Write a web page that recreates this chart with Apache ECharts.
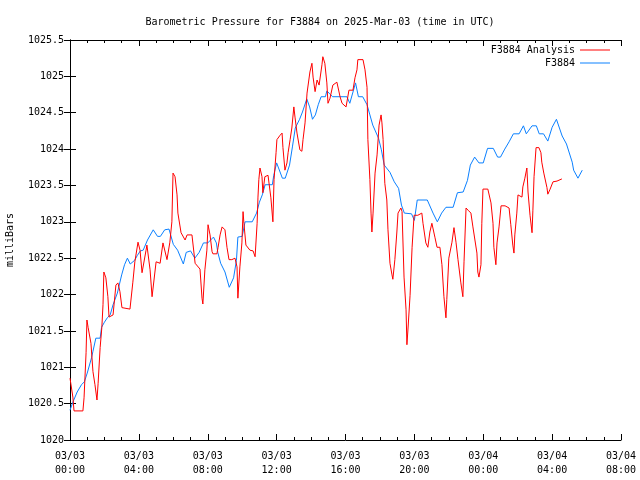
<!DOCTYPE html>
<html><head><meta charset="utf-8">
<script src="https://cdn.jsdelivr.net/npm/echarts@6/dist/echarts.min.js"></script>
<style>html,body{margin:0;padding:0;background:#fff}#c{width:640px;height:480px}</style>
</head><body><div id="c"></div>
<script>
// minutes after 2025-03-03 00:00 UTC
const xTickLabels = ['03/03\n00:00','03/03\n04:00','03/03\n08:00','03/03\n12:00','03/03\n16:00','03/03\n20:00','03/04\n00:00','03/04\n04:00','03/04\n08:00'];

const analysisMinutes = [0,10,14,45,49,56,59,63,73,80,87,94,98,105,111,115,118,125,132,136,150,160,167,174,181,209,219,226,237,244,251,254,265,268,279,286,300,314,324,338,348,355,359,366,373,376,387,401,408,425,436,453,460,463,470,477,481,488,495,498,512,516,523,530,540,547,554,564,575,582,585,592,599,603,606,613,627,638,645,652,655,658,662,669,672,679,690,700,707,711,718,721,732,739,742,749,756,760,767,773,780,784,791,801,808,812,819,826,836,843,847,854,861,868,878,881,888,895,899,906,916,930,941,948,962,972,986,993,1000,1003,1021,1028,1035,1038,1045,1049,1052,1056,1063,1070,1077,1084,1087,1091,1094,1097,1104,1108,1115,1122,1125,1132,1139,1143,1153,1157,1164,1171,1174,1178,1185,1192,1199,1212,1226,1230,1240,1247,1254,1261,1272,1279,1289,1296,1303,1310,1313,1320,1331,1338,1345,1352,1362,1369,1373,1380,1387,1397,1404,1418,1421,1425,1432,1435,1439,1456,1467,1474,1477,1484,1488,1495,1502,1516,1530,1536,1543,1547,1550,1557,1561,1575,1578,1585,1592,1596,1603,1610,1613,1617,1624,1634,1641,1644,1651,1662,1665,1672,1683,1697,1714];
const analysisValues = [1020.85,1020.59,1020.40,1020.40,1020.58,1021.20,1021.65,1021.55,1021.33,1020.94,1020.76,1020.55,1020.78,1021.27,1021.55,1021.86,1022.31,1022.23,1021.97,1021.69,1021.72,1022.13,1022.16,1022.04,1021.82,1021.80,1022.17,1022.45,1022.72,1022.61,1022.30,1022.31,1022.61,1022.68,1022.34,1021.97,1022.45,1022.43,1022.71,1022.48,1022.72,1023.00,1023.67,1023.62,1023.37,1023.12,1022.85,1022.75,1022.82,1022.82,1022.43,1022.35,1021.95,1021.87,1022.34,1022.61,1022.96,1022.82,1022.59,1022.56,1022.56,1022.65,1022.82,1022.93,1022.89,1022.65,1022.48,1022.48,1022.50,1022.38,1021.95,1022.38,1022.71,1023.14,1022.98,1022.68,1022.61,1022.60,1022.52,1022.98,1023.34,1023.58,1023.74,1023.62,1023.40,1023.62,1023.64,1023.33,1023.00,1023.58,1023.95,1024.13,1024.19,1024.22,1024.02,1023.71,1023.81,1023.95,1024.13,1024.29,1024.58,1024.44,1024.22,1023.99,1023.97,1024.13,1024.36,1024.77,1025.06,1025.18,1024.99,1024.79,1024.95,1024.88,1025.16,1025.27,1025.18,1024.91,1024.63,1024.70,1024.88,1024.92,1024.72,1024.63,1024.58,1024.81,1024.81,1024.98,1025.09,1025.23,1025.23,1025.09,1024.85,1024.13,1023.58,1023.12,1022.86,1023.12,1023.67,1023.92,1024.33,1024.47,1024.36,1024.13,1023.81,1023.53,1023.30,1022.89,1022.43,1022.27,1022.21,1022.48,1022.86,1023.12,1023.19,1023.14,1022.24,1021.79,1021.31,1021.54,1021.99,1022.65,1023.09,1023.09,1023.12,1022.98,1022.71,1022.65,1022.86,1022.98,1022.78,1022.65,1022.65,1022.41,1021.97,1021.68,1021.93,1022.50,1022.72,1022.92,1022.72,1022.48,1022.16,1021.97,1022.45,1023.19,1023.16,1023.12,1022.93,1022.57,1022.31,1022.24,1022.41,1022.98,1023.45,1023.45,1023.26,1022.98,1022.65,1022.41,1022.71,1022.93,1023.22,1023.22,1023.19,1022.96,1022.68,1022.57,1022.82,1023.12,1023.37,1023.34,1023.48,1023.60,1023.74,1023.41,1023.09,1022.85,1023.16,1023.62,1024.02,1024.02,1023.95,1023.82,1023.67,1023.47,1023.38,1023.44,1023.55,1023.56,1023.59];

const stationMinutes = [0,10,25,40,50,60,75,80,90,105,110,120,130,140,150,165,180,190,200,210,225,235,245,255,270,290,305,315,330,345,360,375,395,405,420,435,450,465,480,500,510,515,525,540,555,570,580,585,600,610,635,650,660,670,680,705,710,720,740,750,765,775,785,800,810,825,835,845,855,865,875,890,895,905,915,965,975,995,1005,1020,1035,1045,1055,1075,1085,1095,1115,1130,1145,1155,1165,1190,1200,1210,1245,1265,1280,1295,1310,1335,1350,1370,1385,1395,1410,1425,1440,1455,1475,1490,1500,1515,1530,1545,1565,1580,1590,1610,1625,1635,1650,1665,1680,1695,1715,1730,1750,1755,1770,1785];
const stationValues = [1020.41,1020.52,1020.66,1020.76,1020.80,1020.92,1021.13,1021.22,1021.40,1021.40,1021.55,1021.62,1021.68,1021.72,1021.86,1022.02,1022.27,1022.41,1022.50,1022.42,1022.47,1022.54,1022.60,1022.61,1022.75,1022.89,1022.80,1022.80,1022.89,1022.90,1022.69,1022.61,1022.42,1022.58,1022.60,1022.50,1022.58,1022.71,1022.71,1022.79,1022.71,1022.58,1022.43,1022.31,1022.10,1022.23,1022.47,1022.79,1022.80,1023.00,1023.00,1023.12,1023.27,1023.37,1023.51,1023.51,1023.64,1023.81,1023.60,1023.60,1023.78,1024.03,1024.29,1024.41,1024.51,1024.69,1024.58,1024.41,1024.47,1024.61,1024.72,1024.72,1024.80,1024.76,1024.72,1024.72,1024.63,1024.91,1024.72,1024.72,1024.61,1024.47,1024.33,1024.15,1023.99,1023.78,1023.68,1023.55,1023.46,1023.23,1023.12,1023.11,1023.02,1023.30,1023.30,1023.12,1023.00,1023.12,1023.20,1023.20,1023.40,1023.41,1023.57,1023.78,1023.89,1023.81,1023.81,1024.01,1024.01,1023.89,1023.89,1024.00,1024.10,1024.21,1024.21,1024.32,1024.21,1024.32,1024.32,1024.21,1024.21,1024.11,1024.30,1024.41,1024.18,1024.07,1023.82,1023.71,1023.60,1023.71];

const zip = (a, b) => a.map((v, i) => [v, b[i]]);
const font = 'DejaVu Sans Mono';
const chart = echarts.init(document.getElementById('c'), null, {renderer: 'canvas'});
const xCommon = {type: 'value', min: 0, max: 1920, interval: 240,
  axisLine: {show: true, lineStyle: {color: '#000', width: 1}},
  axisTick: {show: true, inside: true, length: 6, lineStyle: {color: '#000'}},
  minorTick: {show: true, splitNumber: 4, length: 3, lineStyle: {color: '#000'}},
  splitLine: {show: false}};
const yCommon = {type: 'value', min: 1020, max: 1025.5, interval: 0.5,
  axisLine: {show: true, lineStyle: {color: '#000', width: 1}},
  axisTick: {show: true, inside: true, length: 6, lineStyle: {color: '#000'}},
  splitLine: {show: false}};
chart.setOption({
  animation: false,
  backgroundColor: '#fff',
  title: {text: 'Barometric Pressure for F3884 on 2025-Mar-03 (time in UTC)', left: 'center', top: 12,
    textStyle: {fontFamily: font, fontSize: 10, fontWeight: 'normal', color: '#000'}},
  grid: {left: 70, right: 19, top: 40, bottom: 40, containLabel: false, outerBoundsMode: 'none'},
  legend: {orient: 'vertical', right: 30, top: 45, padding: 0, align: 'right', itemWidth: 30, itemHeight: 1, itemGap: 3,
    icon: 'rect',
    textStyle: {fontFamily: font, fontSize: 10, color: '#000'},
    data: ['F3884 Analysis', 'F3884']},
  xAxis: [
    Object.assign({}, xCommon, {position: 'bottom',
      axisLabel: {fontFamily: font, fontSize: 10, color: '#000', margin: 9, lineHeight: 14,
        formatter: v => xTickLabels[Math.round(v / 240)]}}),
    Object.assign({}, xCommon, {position: 'top', axisLabel: {show: false}})
  ],
  yAxis: [
    Object.assign({}, yCommon, {position: 'left', name: 'milliBars', nameLocation: 'middle', nameRotate: 90, nameGap: 55,
      nameTextStyle: {fontFamily: font, fontSize: 10, color: '#000'},
      axisLabel: {fontFamily: font, fontSize: 10, color: '#000', margin: 6, formatter: v => String(+v.toFixed(1))}}),
    Object.assign({}, yCommon, {position: 'right', axisLabel: {show: false}})
  ],
  series: [
    {name: 'F3884 Analysis', type: 'line', data: zip(analysisMinutes, analysisValues), symbol: 'none',
      lineStyle: {color: '#ff0000', width: 1}, itemStyle: {color: '#ff0000'}, z: 3},
    {name: 'F3884', type: 'line', data: zip(stationMinutes, stationValues), symbol: 'none',
      lineStyle: {color: '#0a80ff', width: 1}, itemStyle: {color: '#0a80ff'}, z: 2}
  ]
});
</script></body></html>
